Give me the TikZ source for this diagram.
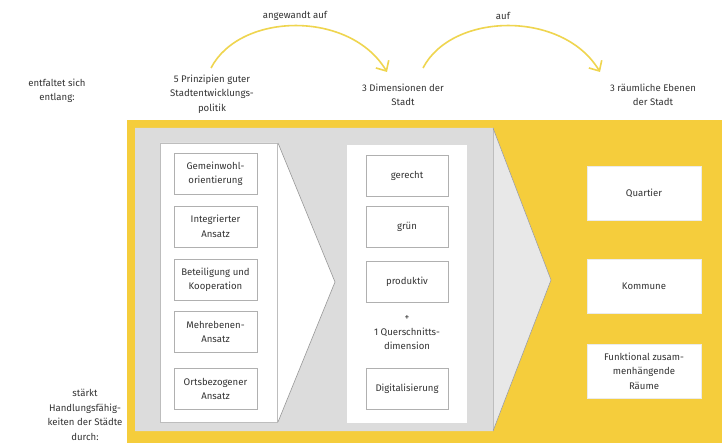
\documentclass[tikz,border=0pt]{standalone}
\usepackage{fontspec}
\setmainfont{Fira Sans}
\usetikzlibrary{arrows.meta}
\definecolor{cityyellow}{HTML}{F5CD3C}
\definecolor{arcyellow}{HTML}{EFD54F}
\definecolor{panelgray}{HTML}{DCDCDC}
\definecolor{edgegray}{HTML}{BDBDBD}
\definecolor{boxline}{HTML}{B0B0B0}
\definecolor{ink}{HTML}{333333}
\tikzset{
  txt/.style={text=ink, align=center, inner sep=0pt, font=\fontsize{9.6}{14.5}\selectfont},
  itembox/.style={txt, draw=boxline, line width=0.8pt, fill=white},
  leftbox/.style={itembox, minimum width=83pt, minimum height=41pt},
  midbox/.style={itembox, minimum width=82pt, minimum height=41pt},
  rightbox/.style={txt, draw=white!92!black, line width=0.6pt, fill=white, minimum width=114pt, minimum height=54pt},
  arcarrow/.style={draw=arcyellow, line width=1.6pt, -{Straight Barb[length=8pt,width=15pt,line width=1.6pt]}}
}
\begin{document}
\begin{tikzpicture}[x=1pt,y=-1pt]
\useasboundingbox (0,0) rectangle (722,443);
\fill[white] (0,0) rectangle (722,443);

% yellow field
\fill[cityyellow] (127,120) rectangle (722,443);

% large grey chevron
\fill[panelgray] (135,128) -- (493,128) -- (551,280) -- (493,431) -- (135,431) -- cycle;
\fill[panelgray!65!white] (493,128) -- (551,280) -- (493,431) -- cycle;
\draw[edgegray, line width=0.9pt] (493,128) -- (493,431);
\draw[edgegray!80!black, line width=0.5pt] (493,128) -- (551,280) -- (493,431);

% left white chevron with the principles
\fill[white] (160,143) -- (278,143) -- (335,282) -- (278,422) -- (160,422) -- cycle;
\draw[edgegray, line width=0.6pt] (160,143) rectangle (277,422);
\draw[edgegray!80!black, line width=0.6pt] (278,143) -- (335,282) -- (278,422);

% middle white panel with the dimensions
\fill[white] (347,145) rectangle (467,423);

% principles
\node[leftbox] (p1) at (215.5,174)   {Gemeinwohl-\\orientierung};
\node[leftbox] (p2) at (215.5,226.5) {Integrierter\\Ansatz};
\node[leftbox] (p3) at (215.5,280)   {Beteiligung und\\Kooperation};
\node[leftbox] (p4) at (215.5,332)   {Mehrebenen-\\Ansatz};
\node[leftbox] (p5) at (215.5,389)   {Ortsbezogener\\Ansatz};

% dimensions
\node[midbox] (d1) at (407,175.5) {gerecht};
\node[midbox] (d2) at (407,227)   {grün};
\node[midbox] (d3) at (407,282)   {produktiv};
\node[txt]    (dq) at (407,333)   {+\\1 Querschnitts-\\dimension};
\node[midbox] (d4) at (407,388.5) {Digitalisierung};

% spatial levels
\node[rightbox] (r1) at (644,193.5) {Quartier};
\node[rightbox] (r2) at (644,286)   {Kommune};
\node[rightbox] (r3) at (644,371)   {Funktional zusam-\\menhängende\\Räume};

% headings
\node[txt] (hleft)  at (57,91)   {entfaltet sich\\entlang:};
\node[txt] (hprin)  at (212,94)  {5 Prinzipien guter\\Stadtentwicklungs-\\politik};
\node[txt] (hdim)   at (403,95)  {3 Dimensionen der\\Stadt};
\node[txt] (hlevel) at (653,95)  {3 räumliche Ebenen\\der Stadt};
\node[txt] (hstark) at (85,415)  {stärkt\\Handlungsfähig-\\keiten der Städte\\durch:};

% connecting arcs
\coordinate (a1s) at (211,68);
\coordinate (a1e) at (387,72);
\coordinate (a2s) at (423,68);
\coordinate (a2e) at (600,72);
\draw[arcarrow] (a1s) .. controls (240,12) and (350,10) .. (a1e);
\draw[arcarrow] (a2s) .. controls (452,12) and (563,10) .. (a2e);
\node[txt] (l1) at (295,16) {angewandt auf};
\node[txt] (l2) at (503,16) {auf};
\end{tikzpicture}
\end{document}
